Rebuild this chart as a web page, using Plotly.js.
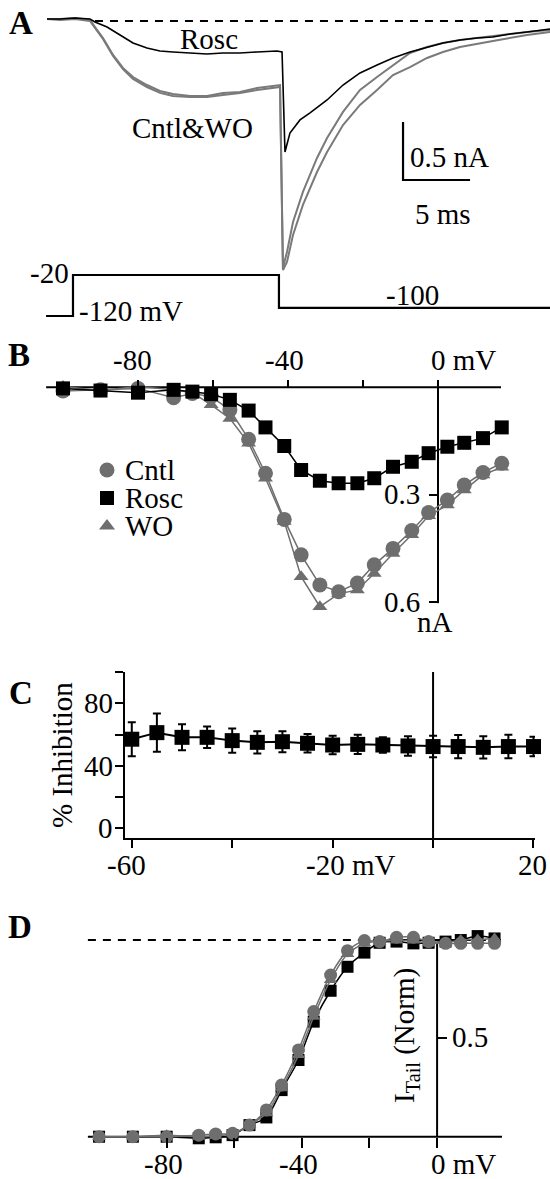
<!DOCTYPE html>
<html><head><meta charset="utf-8">
<script src="https://cdn.plot.ly/plotly-3.0.1.min.js"></script>
<style>html,body{margin:0;padding:0;background:#fff}#chart{width:550px;height:1179px}</style>
</head><body><div id="chart"></div>
<script>
// ---------------- Panel A: current traces (time in ms, current in nA) ----------------
const roscT = [0,0.97,2.09,3.21,3.58,4.48,5.45,6.42,7.46,8.43,9.40,10.67,11.94,13.13,14.40,15.67,17.16,17.54,17.76,18.13,18.88,19.63,20.90,22.09,23.36,24.63,25.82,27.09,28.36,29.55,30.82,32.09,33.28,34.55,35.82,37.54];
const roscI = [0.017,0.017,0.026,0.017,-0.009,-0.052,-0.121,-0.190,-0.233,-0.259,-0.267,-0.276,-0.284,-0.276,-0.276,-0.267,-0.259,-0.267,-1.129,-0.966,-0.853,-0.793,-0.681,-0.552,-0.448,-0.379,-0.319,-0.267,-0.224,-0.190,-0.164,-0.147,-0.138,-0.112,-0.095,-0.069];
const grayT = [0,0.97,2.09,3.21,3.58,4.18,4.93,5.67,6.42,7.46,8.43,9.40,10.67,11.94,13.13,14.40,15.67,17.16,17.39,17.61,17.91,18.36,19.10,20.15,20.90,22.09,23.36,24.63,25.82,27.09,28.36,29.55,30.82,33.28,35.82,37.54];
const cntlI = [0.017,0.017,0.026,0.009,-0.052,-0.147,-0.293,-0.405,-0.483,-0.552,-0.603,-0.629,-0.647,-0.647,-0.621,-0.612,-0.578,-0.552,-0.552,-2.129,-1.991,-1.733,-1.474,-1.181,-1.009,-0.784,-0.595,-0.483,-0.379,-0.276,-0.224,-0.190,-0.164,-0.129,-0.095,-0.078];
const woI   = [0.017,0.009,0.017,0.000,-0.060,-0.155,-0.302,-0.414,-0.500,-0.569,-0.620,-0.647,-0.655,-0.655,-0.638,-0.621,-0.595,-0.569,-0.569,-2.147,-2.078,-1.845,-1.586,-1.302,-1.129,-0.897,-0.724,-0.595,-0.466,-0.397,-0.319,-0.267,-0.224,-0.172,-0.121,-0.095];
// voltage protocol (ms, mV)
const protT = [-0.07,1.94,1.94,17.31,17.31,37.54];
const protV = [-120,-120,-20,-20,-100,-100];
// scale bar sizes
const barI = 0.5, barT = 5;

// ---------------- Panels B & D: test potentials (mV) ----------------
const testV = [-100,-90,-80,-70.5,-65.5,-60.5,-55.5,-50.5,-46,-41,-36.5,-31.5,-26.5,-21.5,-17,-12,-7,-2.5,2.5,7,12,17];
// Panel B: current amplitude (nA, inward)
const ivCntl = [0.010,0.007,0.003,0.029,0.017,0.026,0.063,0.145,0.240,0.369,0.468,0.552,0.571,0.547,0.496,0.450,0.400,0.350,0.315,0.273,0.238,0.212];
const ivRosc = [0.003,0.009,0.015,0.007,0.012,0.019,0.035,0.065,0.112,0.164,0.231,0.261,0.268,0.268,0.254,0.222,0.208,0.184,0.166,0.155,0.142,0.112];
const ivWO   = [-0.002,0.009,-0.002,0.007,0.015,0.049,0.087,0.156,0.254,0.375,0.529,0.613,0.577,0.566,0.520,0.464,0.412,0.359,0.329,0.287,0.245,0.223];

// ---------------- Panel C: % inhibition ----------------
const inhV   = [-60,-55,-50,-45,-40,-35,-30,-25,-20,-15,-10,-5,0,5,10,15,20];
const inhPct = [57.0,61.2,58.2,58.2,56.1,55.0,55.4,54.4,53.3,53.7,53.3,52.7,52.3,52.3,51.8,52.3,52.3];
const inhErr = [10.9,12.3,8.3,6.9,7.7,7.1,6.7,5.9,5.9,6.2,4.9,6.2,6.9,7.4,7.1,7.5,6.2];

// ---------------- Panel D: normalized tail current ----------------
const gvCntl = [0,0,0,0.008,0.014,0.017,0.059,0.136,0.263,0.441,0.636,0.822,0.946,0.997,0.992,1.014,1.014,0.992,0.983,0.983,0.983,0.983];
const gvRosc = [0,0,0,-0.008,-0.003,0.008,0.059,0.098,0.237,0.390,0.585,0.742,0.864,0.936,0.986,0.992,0.983,0.986,0.992,1.000,1.020,1.008];
const gvWO   = [0,0,0.008,0,0.003,0.017,0.059,0.119,0.246,0.415,0.610,0.797,0.929,0.983,0.992,0.997,0.997,0.983,0.986,1.000,1.003,1.008];

const legendNames = ['Cntl','Rosc','WO'];

// ---------------- styling ----------------
const W = 550, H = 1179;
const FONT = 'Liberation Serif, Times New Roman, serif';
const GRAY = '#6e6e6e', BLACK = '#000000';
const px = x => x / W, py = y => 1 - y / H;

const traces = [];
// A
traces.push({x: grayT, y: woI, xaxis:'x', yaxis:'y', mode:'lines', line:{color:'#7a7a7a', width:2}, hoverinfo:'skip'});
traces.push({x: grayT, y: cntlI, xaxis:'x', yaxis:'y', mode:'lines', line:{color:'#7a7a7a', width:2}, hoverinfo:'skip'});
traces.push({x: roscT, y: roscI, xaxis:'x', yaxis:'y', mode:'lines', line:{color:BLACK, width:1.6}, hoverinfo:'skip'});
traces.push({x: protT, y: protV, xaxis:'x', yaxis:'y5', mode:'lines', line:{color:BLACK, width:2.2}, hoverinfo:'skip'});
const barX0 = 26.57, barY0 = -0.871;
traces.push({x:[barX0, barX0, barX0 + barT], y:[barY0, barY0 - barI, barY0 - barI], xaxis:'x', yaxis:'y', mode:'lines', line:{color:BLACK, width:2.2}, hoverinfo:'skip'});

// B
traces.push({x: testV, y: ivCntl, xaxis:'x2', yaxis:'y2', mode:'lines+markers', line:{color:GRAY, width:1.5}, marker:{symbol:'circle', size:15, color:GRAY}, cliponaxis:false});
traces.push({x: testV, y: ivWO, xaxis:'x2', yaxis:'y2', mode:'lines+markers', line:{color:GRAY, width:1.5}, marker:{symbol:'triangle-up', size:13, color:GRAY}, cliponaxis:false});
traces.push({x: testV, y: ivRosc, xaxis:'x2', yaxis:'y2', mode:'lines+markers', line:{color:BLACK, width:1.5}, marker:{symbol:'square', size:14, color:BLACK}, cliponaxis:false});

// C
traces.push({x: inhV, y: inhPct, xaxis:'x3', yaxis:'y3', mode:'lines+markers', line:{color:BLACK, width:2}, marker:{symbol:'square', size:15, color:BLACK},
  error_y:{type:'data', array: inhErr, visible:true, color:BLACK, thickness:2, width:4}, cliponaxis:false});

// D
traces.push({x: testV, y: gvRosc, xaxis:'x4', yaxis:'y4', mode:'lines+markers', line:{color:BLACK, width:1.5, shape:'spline', smoothing:0.8}, marker:{symbol:'square', size:12, color:BLACK}, cliponaxis:false});
traces.push({x: testV, y: gvWO, xaxis:'x4', yaxis:'y4', mode:'lines+markers', line:{color:GRAY, width:1.5, shape:'spline', smoothing:0.8}, marker:{symbol:'triangle-up', size:12, color:GRAY}, cliponaxis:false});
traces.push({x: testV, y: gvCntl, xaxis:'x4', yaxis:'y4', mode:'lines+markers', line:{color:GRAY, width:1.5, shape:'spline', smoothing:0.8}, marker:{symbol:'circle', size:13, color:GRAY}, cliponaxis:false});

// legend keys for panel B (pixel-space helper axes)
const legendRows = [470, 498, 526];
const legendSymbols = [{symbol:'circle', size:15, color:GRAY},{symbol:'square', size:14, color:BLACK},{symbol:'triangle-up', size:14, color:GRAY}];
legendNames.forEach((n,i) => traces.push({x:[107], y:[legendRows[i]], xaxis:'x6', yaxis:'y6', mode:'markers', marker:legendSymbols[i], hoverinfo:'skip', cliponaxis:false}));

const hidden = {visible:false, fixedrange:true};
const tickBase = {showgrid:false, zeroline:false, ticks:'outside', tickwidth:2, tickcolor:BLACK, showticklabels:false, fixedrange:true};

const layout = {
  width: W, height: H, margin:{l:0,r:0,t:0,b:0}, showlegend:false,
  paper_bgcolor:'#fff', plot_bgcolor:'rgba(0,0,0,0)',
  font:{family:FONT, size:29, color:BLACK},
  xaxis: Object.assign({domain:[0,1], range:[-3.507, 37.537], anchor:'y'}, hidden),
  yaxis: Object.assign({domain:[py(320), 1], range:[-2.578, 0.181], anchor:'x'}, hidden),
  yaxis5: Object.assign({overlaying:'y', range:[-129.76, 650.73], anchor:'x'}, hidden),

  xaxis2: Object.assign({domain:[0,1], range:[-116.8, 29.87], anchor:'free', position:py(387.3), side:'top', showline:false, ticklen:7, tickvals:[-80,-60,-40,-20,0]}, tickBase),
  yaxis2: Object.assign({domain:[py(640), py(330)], range:[0.7059, -0.1601], anchor:'free', position:px(438), side:'left', showline:false, ticklen:9, tickvals:[0.3,0.6]}, tickBase),

  xaxis3: Object.assign({domain:[px(124.5), px(535)], range:[-61.45, 20.3], anchor:'y3', showline:true, linewidth:2, linecolor:BLACK, ticklen:8, tickvals:[-60,-40,-20,0,20]}, tickBase),
  yaxis3: Object.assign({domain:[py(838), py(672)], range:[-6.2, 100], anchor:'x3', showline:true, linewidth:2, linecolor:BLACK, ticklen:8, tickvals:[0,20,40,60,80,100]}, tickBase),

  xaxis4: Object.assign({domain:[0,1], range:[-129.3, 33.4], anchor:'free', position:py(1136.7), side:'bottom', showline:false, ticklen:10, tickvals:[-80,-60,-40,-20,0]}, tickBase),
  yaxis4: Object.assign({domain:[0, py(900)], range:[-0.215, 1.2035], anchor:'free', position:px(437), side:'right', showline:false, ticklen:9, tickvals:[0.5]}, tickBase),

  xaxis6: Object.assign({domain:[0,1], range:[0, W], anchor:'y6'}, hidden),
  yaxis6: Object.assign({domain:[0,1], range:[H, 0], anchor:'x6'}, hidden),

  shapes: [
    {type:'line', xref:'x', yref:'y', x0:3.58, x1:37.54, y0:0, y1:0, line:{color:BLACK, width:2, dash:'8px,7px'}},
    {type:'line', xref:'x2', yref:'y2', x0:-104.5, x1:16.8, y0:0, y1:0, line:{color:BLACK, width:2}, layer:'below'},
    {type:'line', xref:'x2', yref:'y2', x0:0, x1:0, y0:0, y1:0.603, line:{color:BLACK, width:2}, layer:'below'},
    {type:'line', xref:'x3', yref:'y3', x0:0, x1:0, y0:-6.2, y1:100, line:{color:BLACK, width:2}, layer:'below'},
    {type:'line', xref:'x4', yref:'y4', x0:-103.3, x1:19.2, y0:0, y1:0, line:{color:BLACK, width:2}, layer:'below'},
    {type:'line', xref:'x4', yref:'y4', x0:0, x1:0, y0:0, y1:0.985, line:{color:BLACK, width:2}, layer:'below'},
    {type:'line', xref:'x4', yref:'y4', x0:-103.3, x1:19.2, y0:1, y1:1, line:{color:BLACK, width:2, dash:'8px,7px'}, layer:'below'}
  ],
  annotations: []
};

function ann(text, x, y, xanchor, extra) {
  return Object.assign({text, x:px(x), y:py(y), xref:'paper', yref:'paper', xanchor:xanchor||'center', yanchor:'middle', showarrow:false, borderpad:0,
    font:{family:FONT, size:29, color:BLACK}}, extra||{});
}
const bold = {font:{family:FONT, size:33, color:BLACK}};
layout.annotations.push(
  ann('<b>A</b>', 21, 23, 'center', bold),
  ann('<b>B</b>', 19, 355, 'center', bold),
  ann('<b>C</b>', 21, 693, 'center', bold),
  ann('<b>D</b>', 20, 927, 'center', bold),
  // A
  ann('Rosc', 209, 39),
  ann('Cntl&WO', 192, 128),
  ann('0.5 nA', 409, 157, 'left'),
  ann('5 ms', 443, 214),
  ann('-20', 70, 273, 'right'),
  ann('-120 mV', 78, 311, 'left'),
  ann('-100', 412, 295),
  // B
  ann('-80', 132, 360),
  ann('-40', 284, 360),
  ann('0 mV', 430, 360, 'left'),
  ann('0.3', 421, 494, 'right'),
  ann('0.6', 421, 602, 'right'),
  ann('nA', 435, 622),
  ann(legendNames[0], 124, 470, 'left'),
  ann(legendNames[1], 124, 498, 'left'),
  ann(legendNames[2], 124, 526, 'left'),
  // C
  ann('80', 114, 703, 'right'),
  ann('40', 114, 766, 'right'),
  ann('0', 114, 828, 'right'),
  ann('-60', 126, 865),
  ann('-20 mV', 305, 865, 'left'),
  ann('20', 532, 865),
  ann('% Inhibition', 62, 755, 'center', {textangle:-90}),
  // D
  ann('-80', 163, 1164),
  ann('-40', 298, 1164),
  ann('0 mV', 430, 1164, 'left'),
  ann('0.5', 451, 1037, 'left'),
  ann('I<sub>Tail</sub> (Norm)', 406, 1036, 'center', {textangle:-90})
);

Plotly.newPlot('chart', traces, layout, {displayModeBar:false, staticPlot:true});
</script>
</body></html>
